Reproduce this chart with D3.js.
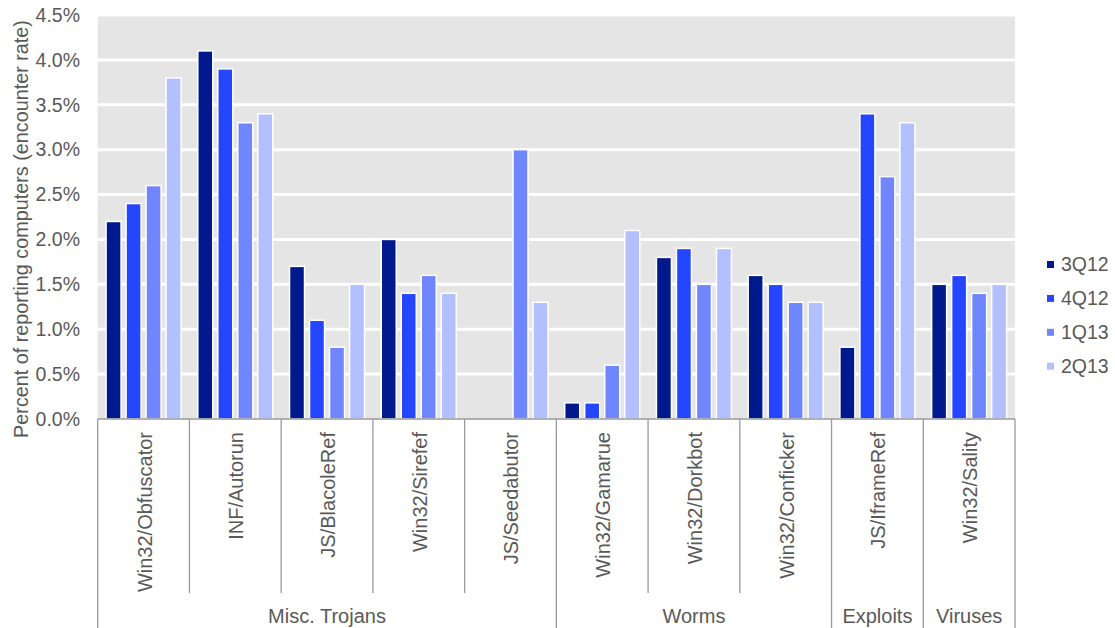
<!DOCTYPE html>
<html>
<head>
<meta charset="utf-8">
<script src="https://cdn.jsdelivr.net/npm/d3@7"></script>
<style>
  html, body { margin: 0; padding: 0; background: #fff; }
  svg text { font-family: "Liberation Sans", Arial, sans-serif; fill: #595959; }
</style>
</head>
<body>
<svg id="chart" width="1115" height="628"></svg>
<script>
// Threat families along the x axis
const categories = [
  "Win32/Obfuscator", "INF/Autorun", "JS/BlacoleRef", "Win32/Sirefef", "JS/Seedabutor",
  "Win32/Gamarue", "Win32/Dorkbot", "Win32/Conficker", "JS/IframeRef", "Win32/Sality"
];
// Family groupings shown under the category labels (first index, last index)
const groupNames = ["Misc. Trojans", "Worms", "Exploits", "Viruses"];
const groupStart = [0, 5, 8, 9];
const groupEnd   = [4, 7, 8, 9];

// Quarters (series)
const series = ["3Q12", "4Q12", "1Q13", "2Q13"];
const seriesColors = ["#00198C", "#2446FF", "#6F86FF", "#B3C0FF"];

// Encounter rate (%) per quarter, one value per category
const q3_12 = [2.2, 4.1, 1.7, 2.0, null, 0.18, 1.8, 1.6, 0.8, 1.5];
const q4_12 = [2.4, 3.9, 1.1, 1.4, null, 0.18, 1.9, 1.5, 3.4, 1.6];
const q1_13 = [2.6, 3.3, 0.8, 1.6, 3.0, 0.6, 1.5, 1.3, 2.7, 1.4];
const q2_13 = [3.8, 3.4, 1.5, 1.4, 1.3, 2.1, 1.9, 1.3, 3.3, 1.5];

const yTicks = [0, 0.5, 1.0, 1.5, 2.0, 2.5, 3.0, 3.5, 4.0, 4.5];

const seriesValues = [q3_12, q4_12, q1_13, q2_13];

const svg = d3.select("#chart");
const plotLeft = 97.7, plotRight = 1015, plotTop = 15, plotBottom = 419;

const x0 = d3.scaleBand().domain(categories).range([plotLeft, plotRight]).padding(0);
const bw = x0.bandwidth();
const x1 = d3.scaleBand().domain(series).range([0, bw]).paddingInner(0.25).paddingOuter(0.418);
const y = d3.scaleLinear().domain([0, 4.5]).range([plotBottom, plotTop]);
const color = d3.scaleOrdinal().domain(series).range(seriesColors);

// Plot background
svg.append("rect")
  .attr("x", plotLeft).attr("y", y(4.5))
  .attr("width", plotRight - plotLeft).attr("height", plotBottom - y(4.5))
  .attr("fill", "#E5E5E5");

// Horizontal gridlines
svg.append("g").selectAll("line")
  .data(yTicks.filter(d => d > 0))
  .join("line")
  .attr("x1", plotLeft).attr("x2", plotRight)
  .attr("y1", d => y(d)).attr("y2", d => y(d))
  .attr("stroke", "#fff").attr("stroke-width", 3);

// Bars
const rows = [];
categories.forEach((c, i) => {
  series.forEach((s, j) => {
    const v = seriesValues[j][i];
    if (v !== null) rows.push({ cat: c, s, v });
  });
});
svg.append("g").selectAll("rect")
  .data(rows)
  .join("rect")
  .attr("x", d => x0(d.cat) + x1(d.s))
  .attr("width", x1.bandwidth())
  .attr("y", d => y(d.v))
  .attr("height", d => y(0) - y(d.v))
  .attr("fill", d => color(d.s))
  .attr("stroke", "#fff").attr("stroke-width", 1.5);

// Y axis tick labels
const yAxis = d3.axisLeft(y).tickValues(yTicks).tickSize(0).tickPadding(0)
  .tickFormat(d => d3.format(".1f")(d) + "%");
svg.append("g")
  .attr("transform", "translate(80,0)")
  .call(yAxis)
  .call(g => g.select(".domain").remove())
  .call(g => g.selectAll("text")
    .attr("font-size", 19.5).attr("fill", "#595959")
    .style("font-family", "'Liberation Sans', Arial, sans-serif"));

// Y axis title
svg.append("text")
  .attr("transform", "translate(28,229) rotate(-90)")
  .attr("text-anchor", "middle")
  .attr("font-size", 19.8)
  .text("Percent of reporting computers (encounter rate)");

// Category axis frame
const lineColor = "#9A9A9A";
const frame = svg.append("g").attr("stroke", lineColor).attr("stroke-width", 1.3);
frame.append("line").attr("x1", plotLeft).attr("x2", plotRight).attr("y1", plotBottom).attr("y2", plotBottom);

const boundaries = d3.range(categories.length + 1).map(i => plotLeft + i * bw);
const groupEdges = new Set([0, ...groupEnd.map(e => e + 1)]);
frame.selectAll("line.sep")
  .data(boundaries.map((b, i) => ({ b, i })))
  .join("line")
  .attr("class", "sep")
  .attr("x1", d => d.b).attr("x2", d => d.b)
  .attr("y1", plotBottom)
  .attr("y2", d => groupEdges.has(d.i) ? 628 : 593);

// Category labels (rotated)
svg.append("g").selectAll("text")
  .data(categories)
  .join("text")
  .attr("transform", d => `translate(${x0(d) + bw / 2 + 1},432) rotate(-90)`)
  .attr("text-anchor", "end")
  .attr("dy", "0.35em")
  .attr("font-size", 20)
  .text(d => d);

// Group labels
svg.append("g").selectAll("text")
  .data(groupNames.map((g, i) => ({ g, i })))
  .join("text")
  .attr("x", d => (x0(categories[groupStart[d.i]]) + x0(categories[groupEnd[d.i]]) + bw) / 2)
  .attr("y", 622.5)
  .attr("text-anchor", "middle")
  .attr("font-size", 20)
  .text(d => d.g);

// Legend
const legend = svg.append("g").selectAll("g")
  .data(series)
  .join("g")
  .attr("transform", (d, i) => `translate(1047,${264.5 + i * 33.9})`);
legend.append("rect")
  .attr("x", 0).attr("y", -3.5).attr("width", 7).attr("height", 7)
  .attr("fill", d => color(d));
legend.append("text")
  .attr("x", 14).attr("dy", "0.35em")
  .attr("font-size", 19.5)
  .text(d => d);
</script>
</body>
</html>
